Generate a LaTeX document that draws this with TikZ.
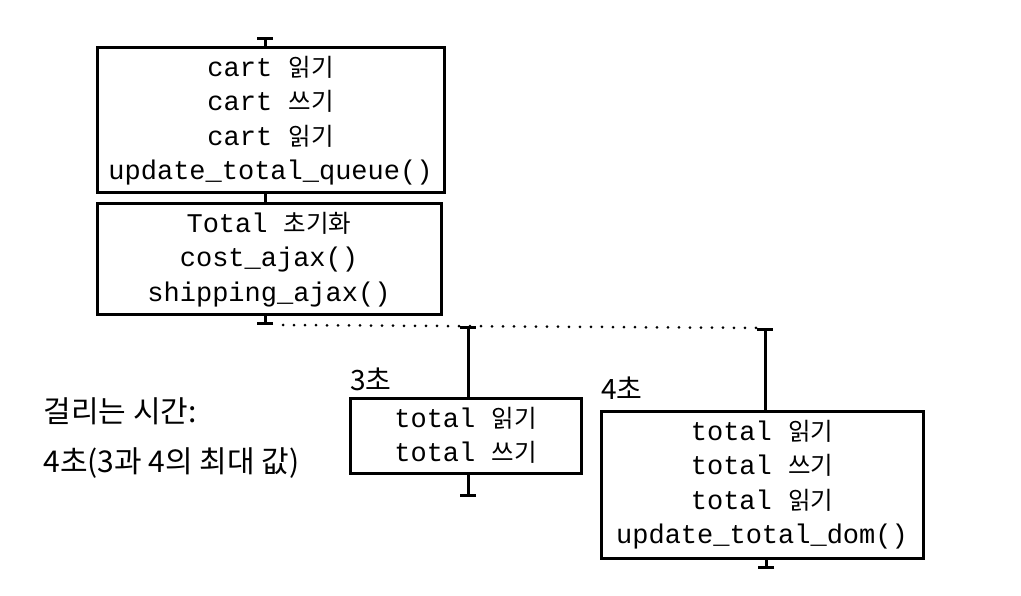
\documentclass[tikz,border=0pt]{standalone}
\usepackage{fontspec}
\setmonofont{Liberation Mono}
\newfontfamily\krfont{Noto Sans CJK KR}
\usetikzlibrary{arrows.meta,positioning,calc}
\newcommand{\kr}[1]{{\krfont\fontsize{24.5}{24.5}\selectfont #1}}

\tikzset{
    stepbox/.style={
        rectangle,
        draw,
        line width=3pt,
        inner sep=0pt,
        align=center,
        font=\ttfamily\fontsize{27}{34.5}\selectfont
    },
    wire/.style={line width=3pt},
    tick/.style={line width=3pt, {Bar[width=16pt,line width=3pt]}-},
    tickend/.style={line width=3pt, -{Bar[width=16pt,line width=3pt]}},
    hand/.style={font=\krfont\fontsize{30}{50}\selectfont, align=left, anchor=west}
}

\begin{document}
\begin{tikzpicture}[x=1pt, y=-1pt]
\useasboundingbox (0,0) rectangle (1021,596);

% main thread
\node[stepbox, minimum width=347pt, minimum height=145pt] (cart) at (270.5,120.5)
    {cart \kr{읽기}\\cart \kr{쓰기}\\cart \kr{읽기}\\update\_total\_queue()};
\node[stepbox, minimum width=344pt, minimum height=111pt] (init) at (269,259.5)
    {Total \kr{초기화}\\cost\_ajax()\\shipping\_ajax()};

% two callbacks
\node[stepbox, minimum width=231pt, minimum height=75pt] (cost) at (465.5,435.5)
    {total \kr{읽기}\\total \kr{쓰기}};
\node[stepbox, minimum width=322pt, minimum height=147pt] (ship) at (762,484.5)
    {total \kr{읽기}\\total \kr{쓰기}\\total \kr{읽기}\\update\_total\_dom()};

\coordinate (start) at (265,37);
\coordinate (join) at (265,325);
\coordinate (forkA) at (468,326);
\coordinate (forkB) at (765,328);
\coordinate (endA) at (468,497);
\coordinate (endB) at (766,569);

\draw[tick] (start) -- (start |- cart.north);
\draw[wire] (cart.south -| start) -- (init.north -| start);
\draw[tickend] (init.south -| join) -- (join);
\draw[line width=3pt, dash pattern=on 0pt off 11pt, line cap=round] (join) ++(18,0) -- (forkB);
\draw[tick] (forkA) -- (forkA |- cost.north);
\draw[tick] (forkB) -- (forkB |- ship.north);
\draw[tickend] (cost.south -| endA) -- (endA);
\draw[tickend] (ship.south -| endB) -- (endB);

% durations
\node[hand, above right=2pt and -2pt of cost.north west, anchor=south west, font=\krfont\fontsize{28}{28}\selectfont] (costtime) {3초};
\node[hand, above right=6pt and -2pt of ship.north west, anchor=south west, font=\krfont\fontsize{28}{28}\selectfont] (shiptime) {4초};
\node[hand] (total) at (40,438) {걸리는 시간:\\4초(3과 4의 최대 값)};
\end{tikzpicture}
\end{document}
